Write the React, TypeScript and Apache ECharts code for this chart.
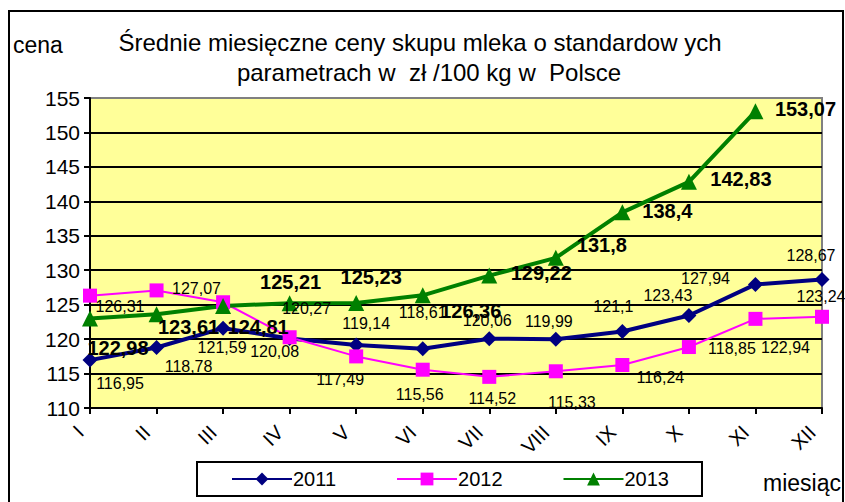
import React, { useEffect, useRef } from "react";
import * as echarts from "echarts";

const months = ["I", "II", "III", "IV", "V", "VI", "VII", "VIII", "IX", "X", "XI", "XII"];
const s2011 = [116.95, 118.78, 121.59, 120.08, 119.14, 118.61, 120.06, 119.99, 121.1, 123.43, 127.94, 128.67];
const s2012 = [126.31, 127.07, 125.35, 120.27, 117.49, 115.56, 114.52, 115.33, 116.24, 118.85, 122.94, 123.24];
const s2013 = [122.98, 123.61, 124.81, 125.21, 125.23, 126.36, 129.22, 131.8, 138.4, 142.83, 153.07, null];
const yTicks = { min: 110, max: 155, interval: 5 };
const titleLines = ["Średnie miesięczne ceny skupu mleka o standardow ych", "parametrach w  zł /100 kg w  Polsce"];

// label offsets (dx, dy) relative to each point
const off2011 = [[30, 23], [32, 19], [-1, 19], [-15, 13], [10, -22], [0, -36], [-2, -18], [-7, -18], [-9, -25], [-21, -20], [-50, -6], [-11, -24]];
const off2012 = [[30, 11], [40, -2], null, [17, -29], [-16, 23], [-3, 25], [3, 22], [16, 31], [38, 12], [43, 1], [30, 29], [-1, -20]];
const off2013 = [[28, 29], [32, 13], [35, 21], [1, -21], [15, -26], [48, 16], [52, -3], [46, -13], [45, -1], [52, -3], [50, -2], null];

const FONT = "'Liberation Sans', Arial, Helvetica, sans-serif";
const fmt = (v: number) => String(v).replace(".", ",");

function buildData(values: (number | null)[], offs: (number[] | null)[], bold: boolean) {
  return values.map((v, i) => {
    const o = offs[i];
    if (v === null) return null;
    return {
      value: v,
      label: o
        ? {
            show: true,
            position: "inside",
            offset: o,
            formatter: fmt(v),
            color: "#000",
            fontFamily: FONT,
            fontSize: bold ? 20 : 16,
            fontWeight: bold ? "bold" : "normal",
          }
        : { show: false },
    };
  });
}

export default function App() {
  const ref = useRef<HTMLDivElement>(null);
  useEffect(() => {
    if (!ref.current) return;
    const chart = echarts.init(ref.current, null, { renderer: "svg" });
    const splitColors = ["#000", "#000", "#000", "#000", "#000", "#000", "#000", "#000", "#000", "#808080"];
    const titleStyle = { fontFamily: FONT, fontSize: 24, fontWeight: "normal", color: "#000" };
    chart.setOption({
      animation: false,
      backgroundColor: "#fff",
      textStyle: { fontFamily: FONT },
      title: [
        { text: titleLines[0], left: 420, top: 30, textAlign: "center", padding: 0, textStyle: titleStyle },
        { text: titleLines[1], left: 429, top: 60, textAlign: "center", padding: 0, textStyle: titleStyle },
      ],
      graphic: [
        {
          type: "rect",
          shape: { x: 9, y: 11, width: 834, height: 600 },
          style: { fill: "none", stroke: "#000", lineWidth: 2 },
          z: 100,
        },
        {
          type: "text",
          x: 13,
          y: 45,
          style: { text: "cena", fontFamily: FONT, fontSize: 23, fill: "#000", verticalAlign: "middle" },
        },
        {
          type: "text",
          x: 763,
          y: 483,
          style: { text: "miesiąc", fontFamily: FONT, fontSize: 23, fill: "#000", verticalAlign: "middle" },
        },
      ],
      grid: {
        left: 90,
        right: 23,
        top: 98,
        bottom: 94,
        show: true,
        backgroundColor: "#FFFF99",
        borderColor: "#808080",
        borderWidth: 2,
        containLabel: false,
        outerBoundsMode: "none",
      },
      legend: {
        left: 197,
        top: 462,
        padding: [7, 33, 7, 34],
        itemGap: 60,
        itemWidth: 60,
        itemHeight: 16,
        borderColor: "#000",
        borderWidth: 2,
        backgroundColor: "#fff",
        textStyle: { fontFamily: FONT, fontSize: 20, color: "#000", padding: [0, 0, 0, -4] },
        data: ["2011", "2012", "2013"],
      },
      xAxis: {
        type: "category",
        data: months,
        boundaryGap: false,
        axisLine: { lineStyle: { color: "#000", width: 2 } },
        axisTick: { show: true, length: 6, inside: false, lineStyle: { color: "#000", width: 2 } },
        axisLabel: { rotate: 45, fontFamily: FONT, fontSize: 20, color: "#000", margin: 11, padding: [0, 14, 0, 0] },
        splitLine: { show: false },
      },
      yAxis: {
        type: "value",
        min: yTicks.min,
        max: yTicks.max,
        interval: yTicks.interval,
        axisLine: { show: true, lineStyle: { color: "#000", width: 2 } },
        axisTick: { show: true, length: 6, inside: false, lineStyle: { color: "#000", width: 2 } },
        axisLabel: { fontFamily: FONT, fontSize: 21, color: "#000", margin: 10 },
        splitLine: { show: true, lineStyle: { color: splitColors, width: 2 } },
      },
      series: [
        {
          name: "2011",
          type: "line",
          data: buildData(s2011, off2011, false),
          symbol: "diamond",
          symbolSize: 15,
          itemStyle: { color: "#000080" },
          lineStyle: { color: "#000080", width: 4 },
        },
        {
          name: "2012",
          type: "line",
          data: buildData(s2012, off2012, false),
          symbol: "rect",
          symbolSize: 14,
          itemStyle: { color: "#FF00FF" },
          lineStyle: { color: "#FF00FF", width: 2 },
        },
        {
          name: "2013",
          type: "line",
          data: buildData(s2013, off2013, true),
          symbol: "triangle",
          symbolSize: 16,
          itemStyle: { color: "#008000" },
          lineStyle: { color: "#008000", width: 4 },
        },
      ],
    });
    return () => chart.dispose();
  }, []);
  return (
    <div
      ref={ref}
      style={{ position: "fixed", left: 0, top: 0, width: 845, height: 502 }}
    />
  );
}
